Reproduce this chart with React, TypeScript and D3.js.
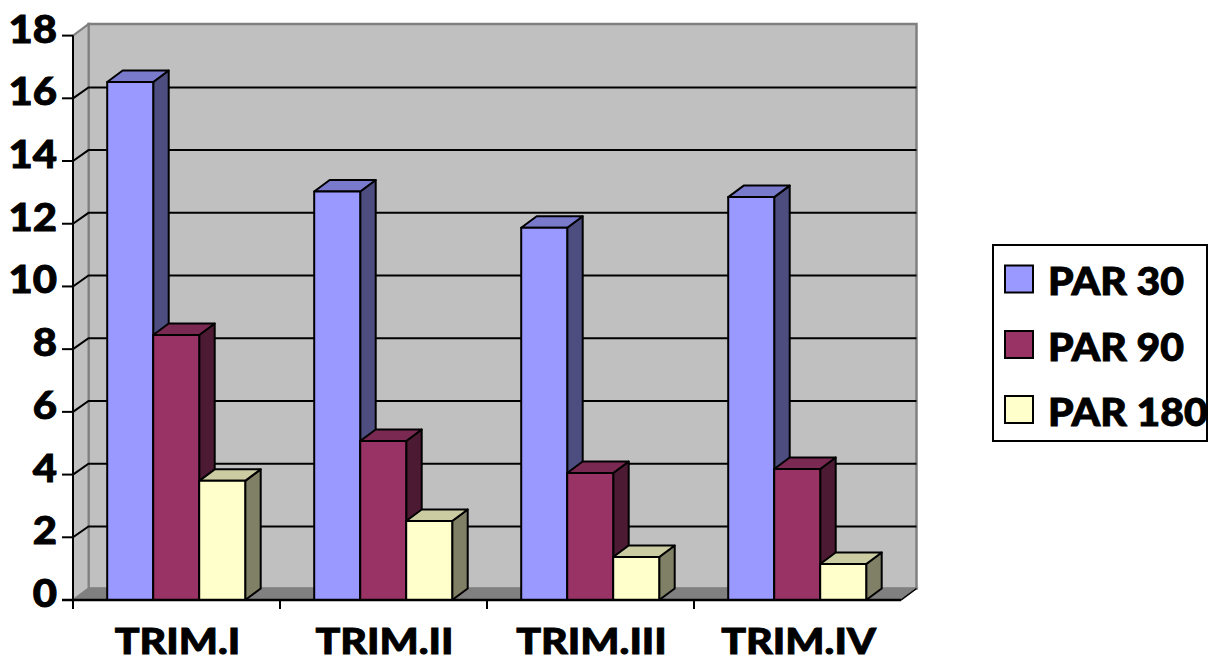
import React from "react";
import * as d3 from "d3";

const categories = ["TRIM.I", "TRIM.II", "TRIM.III", "TRIM.IV"];
const seriesNames = ["PAR 30", "PAR 90", "PAR 180"];
const par30 = [16.52, 13.03, 11.87, 12.85];
const par90 = [8.45, 5.07, 4.05, 4.18];
const par180 = [3.8, 2.52, 1.37, 1.15];
const yTicks = [0, 2, 4, 6, 8, 10, 12, 14, 16, 18];
const seriesValues = [par30, par90, par180];
const front = ["#9999ff", "#993366", "#ffffcc"];
const top = ["#7a7acc", "#7a2952", "#cccca3"];
const side = ["#4d4d80", "#4d1a33", "#808066"];

const X0 = 73, X1 = 901, Y0 = 600, Y18 = 35.6;
const DX = 15.5, DY = -11.5;
const BAR_W = 46;
const FONT = "Lato, Carlito, sans-serif";
const SX = 1.13;
const SX_LEGEND = 1.105;

const textStyle = {
  fontFamily: FONT,
  fontWeight: 900,
  fill: "#000",
  stroke: "#000",
  strokeWidth: 0.9,
};

export default function App() {
  const y = d3.scaleLinear().domain([0, 18]).range([Y0, Y18]);
  const x = d3.scaleBand<string>().domain(categories).range([X0, X1]);
  const poly = (pts: number[][]) => pts.map((p) => p.join(",")).join(" ");
  const legendY = [279, 344.5, 409.5];

  return (
    <svg
      width={1208}
      height={657}
      viewBox="0 0 1208 657"
      style={{ position: "absolute", left: 0, top: 0, display: "block" }}
    >
      {/* back wall */}
      <polygon
        points={poly([[X0 + DX, y(18) + DY], [X1 + DX, y(18) + DY], [X1 + DX, Y0 + DY], [X0 + DX, Y0 + DY]])}
        fill="#c0c0c0" stroke="#808080" strokeWidth={2.5}
      />
      {/* left wall */}
      <polygon
        points={poly([[X0, y(18)], [X0 + DX, y(18) + DY], [X0 + DX, Y0 + DY], [X0, Y0]])}
        fill="#c0c0c0" stroke="#808080" strokeWidth={2}
      />
      {/* floor */}
      <polygon
        points={poly([[X0, Y0], [X0 + DX, Y0 + DY], [X1 + DX, Y0 + DY], [X1, Y0]])}
        fill="#808080" stroke="#808080" strokeWidth={1.5}
      />
      <line x1={X1} y1={Y0} x2={X1 + DX} y2={Y0 + DY} stroke="#000" strokeWidth={1.5} />
      {/* grid */}
      {yTicks.filter((t) => t > 0 && t < 18).map((t) => (
        <polyline
          key={t}
          points={poly([[X0, y(t)], [X0 + DX, y(t) + DY + 0.6], [X1 + DX, y(t) + DY + 0.6]])}
          fill="none" stroke="#000" strokeWidth={2}
        />
      ))}
      {/* bars */}
      {categories.map((c, i) =>
        seriesValues.map((vals, s) => {
          const bx = (x(c) as number) + 34.2 + s * BAR_W;
          const ty = y(vals[i]);
          return (
            <g key={c + s} stroke="#000" strokeWidth={2} strokeLinejoin="round">
              <polygon
                points={poly([[bx + BAR_W, ty], [bx + BAR_W + DX, ty + DY], [bx + BAR_W + DX, Y0 + DY], [bx + BAR_W, Y0]])}
                fill={side[s]}
              />
              <polygon
                points={poly([[bx, ty], [bx + DX, ty + DY], [bx + BAR_W + DX, ty + DY], [bx + BAR_W, ty]])}
                fill={top[s]}
              />
              <rect x={bx} y={ty} width={BAR_W} height={Y0 - ty} fill={front[s]} />
            </g>
          );
        })
      )}
      {/* axes */}
      <line x1={X0} x2={X0} y1={y(18)} y2={Y0 + 9} stroke="#000" strokeWidth={2} />
      <line x1={X0 - 11} x2={X1} y1={Y0} y2={Y0} stroke="#000" strokeWidth={2.5} />
      {yTicks.map((t) => (
        <line key={t} x1={X0 - 11} x2={X0} y1={y(t)} y2={y(t)} stroke="#000" strokeWidth={2} />
      ))}
      {categories.map((c) => (
        <line key={c} x1={x(c) as number} x2={x(c) as number} y1={Y0} y2={Y0 + 9} stroke="#000" strokeWidth={2} />
      ))}
      {/* labels */}
      {yTicks.map((t) => (
        <text
          key={t}
          transform={`translate(57,${y(t) - 7.5}) scale(${SX},1)`}
          textAnchor="end" dominantBaseline="central"
          fontSize={37} style={textStyle}
        >
          {t}
        </text>
      ))}
      {categories.map((c) => (
        <text
          key={c}
          transform={`translate(${(x(c) as number) + x.bandwidth() / 2 + 1},654) scale(${SX},1)`}
          textAnchor="middle" fontSize={36.5} style={textStyle}
        >
          {c}
        </text>
      ))}
      {/* legend */}
      <rect x={993} y={245} width={214} height={196} fill="#fff" stroke="#000" strokeWidth={2} />
      {seriesNames.map((n, s) => (
        <g key={n}>
          <rect x={1005} y={legendY[s] - 13.5} width={28} height={27} fill={front[s]} stroke="#000" strokeWidth={2} />
          <text
            transform={`translate(1048,${legendY[s] + 2}) scale(${SX_LEGEND},1)`}
            dominantBaseline="central"
            fontSize={37} style={textStyle}
          >
            {n}
          </text>
        </g>
      ))}
    </svg>
  );
}
